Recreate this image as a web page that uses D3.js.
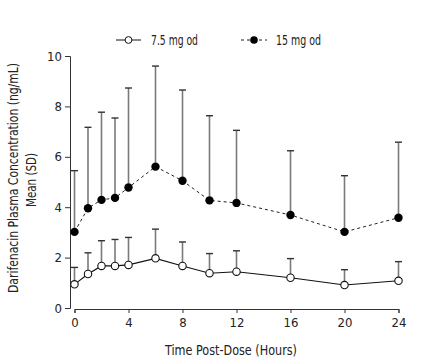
<!DOCTYPE html>
<html><head><meta charset="utf-8">
<script src="https://cdnjs.cloudflare.com/ajax/libs/d3/7.8.5/d3.min.js"></script>
<style>
body{margin:0;background:#fff;}
svg text{font-family:"Liberation Sans Narrow","Arial Narrow","DejaVu Sans Condensed",sans-serif;fill:#222;}
</style></head><body>
<svg id="c" width="421" height="364"></svg>
<script>
const times = [0,1,2,3,4,6,8,10,12,16,20,24];
const mean75 = [0.94,1.35,1.67,1.67,1.71,1.97,1.67,1.38,1.44,1.20,0.91,1.08];
const upper75 = [1.61,2.19,2.67,2.72,2.80,3.13,2.62,2.16,2.27,1.96,1.52,1.84];
const mean15 = [3.02,3.96,4.29,4.37,4.78,5.61,5.05,4.27,4.17,3.69,3.02,3.58];
const upper15 = [5.45,7.17,7.77,7.54,8.73,9.60,8.65,7.63,7.05,6.24,5.25,6.58];
const xTicks = [0,4,8,12,16,20,24];
const yTicks = [0,2,4,6,8,10];
const seriesNames = ["7.5 mg od","15 mg od"];
const yTitle = ["Darifenacin Plasma Concentration (ng/mL)","Mean (SD)"];
const xTitle = "Time Post-Dose (Hours)";

const svg = d3.select("#c");
const x = d3.scaleLinear().domain([0,24]).range([74.5,398.5]);
const y = d3.scaleLinear().domain([0,10]).range([308,56]);

// axes
const gy = svg.append("g").attr("transform","translate(70,0)")
  .call(d3.axisLeft(y).tickValues(yTicks).tickSize(5).tickPadding(3));
const gx = svg.append("g").attr("transform","translate(0,309)")
  .call(d3.axisBottom(x).tickValues(xTicks).tickSize(4).tickPadding(5));
[gy,gx].forEach(g=>{
  g.select(".domain").attr("stroke","#333");
  g.selectAll(".tick line").attr("stroke","#333");
  g.selectAll("text").attr("font-size",13).attr("fill","#222")
   .attr("font-family","'Liberation Sans Narrow','Arial Narrow','DejaVu Sans Condensed',sans-serif");
});

// titles
svg.append("text").attr("transform","translate(18,178) rotate(-90)")
  .attr("text-anchor","middle").attr("font-size",13.5)
  .attr("textLength",230).attr("lengthAdjust","spacingAndGlyphs").text(yTitle[0]);
svg.append("text").attr("transform","translate(35.5,180) rotate(-90)")
  .attr("text-anchor","middle").attr("font-size",13.5)
  .attr("textLength",54).attr("lengthAdjust","spacingAndGlyphs").text(yTitle[1]);
svg.append("text").attr("x",231).attr("y",354.5)
  .attr("text-anchor","middle").attr("font-size",13.5)
  .attr("textLength",132).attr("lengthAdjust","spacingAndGlyphs").text(xTitle);

function errBars(mean, up, r){
  const g = svg.append("g");
  times.forEach((t,i)=>{
    g.append("line").attr("x1",x(t)).attr("x2",x(t))
      .attr("y1",y(mean[i])-r).attr("y2",y(up[i]))
      .attr("stroke","#7a7a7a").attr("stroke-width",1.6);
    g.append("line").attr("x1",x(t)-3.5).attr("x2",x(t)+3.5)
      .attr("y1",y(up[i])).attr("y2",y(up[i]))
      .attr("stroke","#333").attr("stroke-width",1.4);
  });
}
errBars(mean15, upper15, 4);
errBars(mean75, upper75, 3.7);

const line = d3.line().x(d=>x(d[0])).y(d=>y(d[1]));
svg.append("path").datum(times.map((t,i)=>[t,mean15[i]]))
  .attr("d",line).attr("fill","none").attr("stroke","#222").attr("stroke-width",1)
  .attr("stroke-dasharray","3,3");
svg.append("path").datum(times.map((t,i)=>[t,mean75[i]]))
  .attr("d",line).attr("fill","none").attr("stroke","#111").attr("stroke-width",1.1);

svg.append("g").selectAll("circle").data(times).join("circle")
  .attr("cx",d=>x(d)).attr("cy",(d,i)=>y(mean15[i])).attr("r",4.2)
  .attr("fill","#000");
svg.append("g").selectAll("circle").data(times).join("circle")
  .attr("cx",d=>x(d)).attr("cy",(d,i)=>y(mean75[i])).attr("r",3.7)
  .attr("fill","#fff").attr("stroke","#111").attr("stroke-width",1.1);

// legend
const lg = svg.append("g");
lg.append("line").attr("x1",116).attr("x2",141).attr("y1",40).attr("y2",40).attr("stroke","#111");
lg.append("circle").attr("cx",128.5).attr("cy",40).attr("r",3.4).attr("fill","#fff").attr("stroke","#111");
lg.append("text").attr("x",151).attr("y",45).attr("font-size",13.5)
  .attr("textLength",47).attr("lengthAdjust","spacingAndGlyphs").text(seriesNames[0]);
lg.append("line").attr("x1",241).attr("x2",267).attr("y1",40).attr("y2",40).attr("stroke","#222").attr("stroke-dasharray","3,3");
lg.append("circle").attr("cx",254).attr("cy",40).attr("r",3.8).attr("fill","#000");
lg.append("text").attr("x",276).attr("y",45).attr("font-size",13.5)
  .attr("textLength",45).attr("lengthAdjust","spacingAndGlyphs").text(seriesNames[1]);
</script></body></html>
